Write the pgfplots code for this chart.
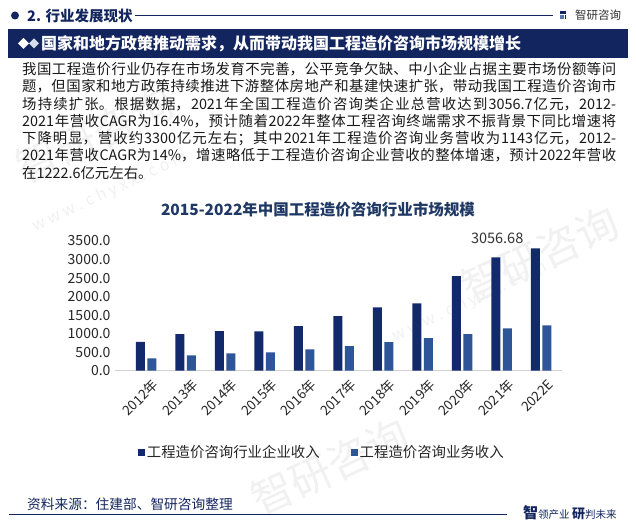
\documentclass[border=0pt]{standalone}
\usepackage{fontspec}
\setmainfont{Noto Sans CJK SC}
\usepackage{pgfplots}
\pgfplotsset{compat=1.18}
\definecolor{navy}{HTML}{13255E}
\definecolor{bardark}{HTML}{122A6B}
\definecolor{barlight}{HTML}{2E5597}
\definecolor{titlenavy}{HTML}{1F3864}
\definecolor{wm}{HTML}{F1F1F1}
\begin{document}
\begin{tikzpicture}[x=1pt,y=1pt]
\useasboundingbox[fill=white] (0,0) rectangle (636,527);
% watermarks
\node[rotate=25,text=wm,font=\fontsize{42}{44}\selectfont] at (95,392) {智研咨询};
\node[rotate=25,text=wm,font=\fontsize{42}{44}\selectfont] at (540,272) {智研咨询};
\node[rotate=25,text=wm,font=\fontsize{42}{44}\selectfont] at (330,60) {智研咨询};
\node[rotate=25,text=wm,font=\fontsize{16}{18}\selectfont] at (470,225) {w w w . c h y x x . c o m};
\node[rotate=25,text=wm,font=\fontsize{16}{18}\selectfont] at (110,335) {w w w . c h y x x . c o m};
% header
\fill[navy] (15,511.5) circle (4);
\node[anchor=west,inner sep=0pt,text=navy,font=\fontsize{14.5}{16}\selectfont\bfseries] at (27,511.5) {2. 行业发展现状};
\draw[navy,line width=0.8pt] (135,511.3) -- (553,511.3);
\fill[navy] (559.5,515.5) rectangle (566,513.2);
\fill[barlight!80] (559.5,512.3) rectangle (563.5,507.5);
\fill[navy] (564.5,512.3) rectangle (566,507.5);
\node[anchor=west,inner sep=0pt,text=black!80,font=\fontsize{11.5}{13}\selectfont] at (575,511.5) {智研咨询};
% banner
\fill[navy] (8,469) rectangle (628,498);
\fill[white!80!barlight] (29,483.5) -- ++(5,5) -- ++(5,-5) -- ++(-5,-5) -- cycle;
\fill[white] (18,483.5) -- ++(5.5,5.5) -- ++(5.5,-5.5) -- ++(-5.5,-5.5) -- cycle;
\node[anchor=west,inner sep=0pt,text=white,font=\fontsize{16}{18}\selectfont\bfseries] at (41,483.5) {国家和地方政策推动需求，从而带动我国工程造价咨询市场规模增长};
% paragraph
\node[anchor=north west,inner sep=0pt,text width=594pt,align=justify,font=\fontsize{14.4}{17.3}\selectfont,text=black!90] at (22,465) {\XeTeXlinebreaklocale "zh"\XeTeXlinebreakskip=0pt plus 2pt\tolerance=10000\relax
我国工程造价行业仍存在市场发育不完善，公平竞争欠缺、中小企业占据主要市场份额等问\linebreak
题，但国家和地方政策持续推进下游整体房地产和基建快速扩张，带动我国工程造价咨询市\linebreak
场持续扩张。根据数据，2021年全国工程造价咨询类企业总营收达到3056.7亿元，2012-\linebreak
2021年营收CAGR为16.4\%，预计随着2022年整体工程咨询终端需求不振背景下同比增速将\linebreak
下降明显，营收约3300亿元左右；其中2021年工程造价咨询业务营收为1143亿元，2012-\linebreak
2021年营收CAGR为14\%，增速略低于工程造价咨询企业营收的整体增速，预计2022年营收\linebreak
在1222.6亿元左右。};
% chart title
\node[inner sep=0pt,text=titlenavy,font=\fontsize{15.5}{17}\selectfont\bfseries] at (318,317) {2015-2022年中国工程造价咨询行业市场规模};
% footer
\node[anchor=west,inner sep=0pt,text=navy,font=\fontsize{13.7}{15}\selectfont] at (27,23) {资料来源：住建部、智研咨询整理};
\draw[navy,line width=0.9pt] (9,13) -- (507,13);
\node[anchor=west,inner sep=0pt,text=navy] at (523,14) {{\fontsize{15}{16}\selectfont\bfseries 智}{\fontsize{10.5}{12}\selectfont 领产业 }{\fontsize{13}{14}\selectfont\bfseries 研}{\fontsize{10.5}{12}\selectfont 判未来}};
\begin{axis}[
  at={(115pt,156.3pt)}, anchor=south west,
  scale only axis, width=446.7pt, height=129.7pt,
  ybar=2.5pt, bar width=9pt,
  xmin=-0.79, xmax=10.52, ymin=0, ymax=3500,
  enlargelimits=false, clip=false,
  xtick={0,1,2,3,4,5,6,7,8,9,10},
  xticklabels={2012年,2013年,2014年,2015年,2016年,2017年,2018年,2019年,2020年,2021年,2022E},
  ytick={0,500,1000,1500,2000,2500,3000,3500},
  scaled y ticks=false,
  yticklabel style={/pgf/number format/fixed,/pgf/number format/fixed zerofill,/pgf/number format/precision=1,/pgf/number format/1000 sep={},/pgf/number format/assume math mode=true,font=\fontsize{14}{16}\selectfont,text=black!85,xshift=-1pt},
  xticklabel style={rotate=45,anchor=east,font=\fontsize{13.5}{15}\selectfont,text=black!85,yshift=-15pt,xshift=2pt},
  axis x line*=bottom, axis y line*=left,
  y axis line style={draw=none},
  x axis line style={draw=black!18,line width=0.8pt},
  tick style={draw=none}, major tick length=0pt,
  legend columns=2,
  legend style={at={(0.463,-0.627)},anchor=center,draw=none,fill=none,font=\fontsize{14.4}{16}\selectfont,text=black!85,/tikz/every even column/.append style={column sep=29pt}},
]
\addplot[fill=bardark,draw=none,legend image code/.code={\fill[bardark] (0pt,-3.5pt) rectangle (7pt,3.5pt);}] coordinates {
(0,775) (1,985) (2,1065) (3,1062) (4,1200) (5,1470) (6,1712) (7,1820) (8,2550) (9,3056.68) (10,3300)};
\addplot[fill=barlight,draw=none,legend image code/.code={\fill[barlight] (0pt,-3.5pt) rectangle (7pt,3.5pt);}] coordinates {
(0,335) (1,415) (2,470) (3,497) (4,578) (5,660) (6,768) (7,876) (8,985) (9,1143) (10,1222.6)};
\legend{工程造价咨询行业企业收入,工程造价咨询业务收入}
\node[text=black!80,font=\fontsize{14.5}{16}\selectfont,inner sep=0pt] at ([xshift=-4.5pt,yshift=19.4pt]axis cs:9,3056.68) {3056.68};
\end{axis}
\end{tikzpicture}
\end{document}
